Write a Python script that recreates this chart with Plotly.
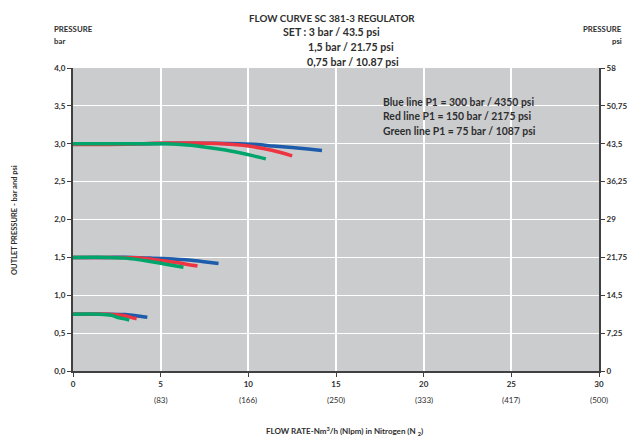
import plotly.graph_objects as go

# Flow rate (Nm3/h) and outlet pressure (bar) for each inlet pressure / set point
blue_3_flow = [0, 2, 4, 6, 8, 9.5, 10.5, 11.4, 12.5, 13.4, 14.2]
blue_3_p = [3.0, 3.0, 3.0, 3.005, 3.005, 3.0, 2.99, 2.97, 2.95, 2.93, 2.91]
red_3_flow = [0, 2, 4, 5.5, 7, 8.5, 10, 11.4, 12.5]
red_3_p = [2.99, 2.99, 3.0, 3.01, 3.01, 3.0, 2.97, 2.91, 2.84]
green_3_flow = [0, 2, 4, 5.3, 6.5, 7.6, 8.6, 9.5, 10.3, 11.0]
green_3_p = [3.0, 3.0, 3.0, 3.0, 2.985, 2.955, 2.92, 2.88, 2.84, 2.80]

blue_15_flow = [0, 2, 3.4, 4.5, 5.7, 7.0, 8.3]
blue_15_p = [1.5, 1.5, 1.5, 1.49, 1.477, 1.455, 1.42]
red_15_flow = [0, 2, 3.7, 5.0, 6.0, 7.1]
red_15_p = [1.5, 1.5, 1.495, 1.46, 1.43, 1.385]
green_15_flow = [0, 2, 3.0, 4.4, 5.3, 6.3]
green_15_p = [1.5, 1.5, 1.49, 1.445, 1.41, 1.37]

blue_075_flow = [0, 2, 3.0, 3.6, 4.24]
blue_075_p = [0.75, 0.75, 0.745, 0.73, 0.71]
red_075_flow = [0, 2, 2.8, 3.2, 3.63]
red_075_p = [0.75, 0.75, 0.735, 0.715, 0.69]
green_075_flow = [0, 1.5, 2.2, 2.5, 2.8, 3.21]
green_075_p = [0.75, 0.75, 0.735, 0.71, 0.695, 0.672]

x_ticks = [0, 5, 10, 15, 20, 25, 30]
x_nlpm = ["", "(83)", "(166)", "(250)", "(333)", "(417)", "(500)"]
bar_ticks = [0, 0.5, 1.0, 1.5, 2.0, 2.5, 3.0, 3.5, 4.0]
bar_labels = ["0,0", "0,5", "1,0", "1,5", "2,0", "2,5", "3,0", "3,5", "4,0"]
psi_ticks = [0, 7.25, 14.5, 21.75, 29, 36.25, 43.5, 50.75, 58]
psi_labels = ["0", "7,25", "14,5", "21,75", "29", "36,25", "43,5", "50,75", "58"]

BLUE = "#1C5CAA"
RED = "#EE3440"
GREEN = "#00A56C"
FONT = "Lato"
TXT = "#2E2E2E"
AXIS = "#404040"

fig = go.Figure()

series = [
    (blue_3_flow, blue_3_p, BLUE), (blue_15_flow, blue_15_p, BLUE), (blue_075_flow, blue_075_p, BLUE),
    (red_3_flow, red_3_p, RED), (red_15_flow, red_15_p, RED), (red_075_flow, red_075_p, RED),
    (green_3_flow, green_3_p, GREEN), (green_15_flow, green_15_p, GREEN), (green_075_flow, green_075_p, GREEN),
]
for fx, fy, col in series:
    fig.add_trace(go.Scatter(x=fx, y=fy, mode="lines",
                             line=dict(color=col, width=3.5, shape="spline", smoothing=0.6),
                             showlegend=False, hoverinfo="skip"))

# invisible trace to drive the psi axis
fig.add_trace(go.Scatter(x=[0], y=[0], yaxis="y2", mode="markers",
                         marker=dict(opacity=0), showlegend=False, hoverinfo="skip"))

tick_font = dict(size=8, family=FONT, color=TXT)
fig.update_layout(
    width=628, height=438,
    margin=dict(l=73, r=29, t=68, b=67, autoexpand=False),
    paper_bgcolor="white",
    plot_bgcolor="#CBCCCE",
    font=dict(family=FONT, color=TXT, size=8),
    xaxis=dict(range=[0, 30], tickvals=x_ticks, ticktext=[f"<b>{t}</b>" for t in x_ticks],
               showgrid=True, gridcolor="white", gridwidth=1.5, zeroline=False, automargin=False,
               showline=True, linecolor=AXIS, linewidth=2, ticks="outside", ticklen=4,
               tickcolor=AXIS, tickfont=tick_font),
    yaxis=dict(range=[0, 4], tickvals=bar_ticks, ticktext=[f"<b>{t}</b>" for t in bar_labels],
               showgrid=True, gridcolor="white", gridwidth=1.2, zeroline=False, automargin=False,
               showline=True, linecolor=AXIS, linewidth=2, ticks="outside", ticklen=4,
               tickcolor=AXIS, tickfont=tick_font),
    yaxis2=dict(range=[0, 58], overlaying="y", side="right", tickvals=psi_ticks,
                ticktext=[f"<b>{t}</b>" for t in psi_labels], showgrid=False, zeroline=False,
                automargin=False,
                showline=True, linecolor=AXIS, linewidth=2, ticks="outside", ticklen=4,
                tickcolor=AXIS, tickfont=tick_font),
)

ann = []
L, R, T, B = 73, 599, 68, 371
def px(x): return (x - L) / (R - L)
def py(y): return (B - y) / (B - T)

def txt(x, y, s, size=8.5, bold=True, xanchor="center"):
    ann.append(dict(x=px(x), y=py(y), xref="paper", yref="paper",
                    text=f"<b>{s}</b>" if bold else s,
                    showarrow=False, xanchor=xanchor, yanchor="middle",
                    font=dict(family=FONT, size=size, color=TXT)))

txt(332, 18, "FLOW CURVE SC 381-3 REGULATOR", size=9.8)
txt(331, 32, "SET : 3 bar / 43.5 psi", size=10.6)
txt(351, 47, "1,5 bar / 21.75 psi", size=10.6)
txt(353, 62, "0,75 bar / 10.87 psi", size=10.6)
txt(52, 29, "PRESSURE", size=7.8, xanchor="left")
txt(52, 41, "bar", size=7.8, xanchor="left")
txt(624, 29, "PRESSURE", size=7.8, xanchor="right")
txt(624, 41, "psi", size=7.8, xanchor="right")

txt(381, 102, "Blue line P1 = 300 bar / 4350 psi", size=10.4, xanchor="left")
txt(381, 116, "Red line P1 = 150 bar / 2175 psi", size=10.4, xanchor="left")
txt(381, 131, "Green line P1 = 75 bar / 1087 psi", size=10.4, xanchor="left")

for xv, lab in zip(x_ticks, x_nlpm):
    if lab:
        ann.append(dict(x=xv, y=py(400), xref="x", yref="paper", text=lab, showarrow=False,
                        xanchor="center", yanchor="middle",
                        font=dict(family=FONT, size=8, color=TXT)))

txt(344, 431, "FLOW RATE-Nm<sup>3</sup>/h (Nlpm) in Nitrogen (N <sub>2</sub>)", size=8)
ann.append(dict(x=px(14), y=py(220), xref="paper", yref="paper",
                text="<b>OUTLET PRESSURE - bar and psi</b>", showarrow=False, textangle=-90,
                xanchor="center", yanchor="middle",
                font=dict(family=FONT, size=7.5, color=TXT)))

fig.update_layout(annotations=ann)
fig.write_html("out.html")
